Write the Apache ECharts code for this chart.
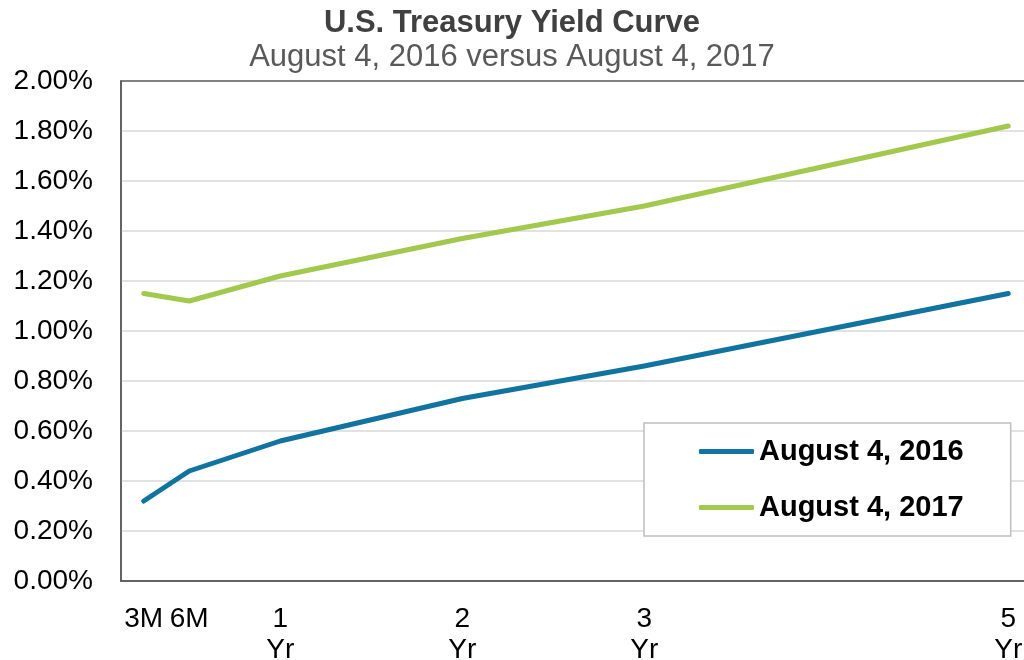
<!DOCTYPE html>
<html>
<head>
<meta charset="utf-8">
<script src="https://cdn.jsdelivr.net/npm/echarts@6/dist/echarts.min.js"></script>
<style>
html,body{margin:0;padding:0;background:#fff;}
#chart{width:1024px;height:660px;}
</style>
</head>
<body>
<div id="chart"></div>
<script>
// Maturities in years and their tick labels
const maturities = [0.25, 0.5, 1, 2, 3, 5];
const tickLabels = ['3M', '6M', '1\nYr', '2\nYr', '3\nYr', '5\nYr'];
// Yields (%)
const yields2016 = [0.32, 0.44, 0.56, 0.73, 0.86, 1.15];
const yields2017 = [1.15, 1.12, 1.22, 1.37, 1.50, 1.82];
const seriesNames = ['August 4, 2016', 'August 4, 2017'];
const titleText = 'U.S. Treasury Yield Curve';
const subtitleText = 'August 4, 2016 versus August 4, 2017';

const font = 'Liberation Sans, Arial, sans-serif';
const toPairs = ys => maturities.map((m, i) => [m, ys[i]]);
const labelMap = {};
maturities.forEach((m, i) => { labelMap[m] = tickLabels[i]; });

const chart = echarts.init(document.getElementById('chart'), null, {renderer: 'canvas'});
chart.setOption({
  animation: false,
  backgroundColor: '#ffffff',
  title: [
    {text: titleText, left: 'center', top: 3,
     textStyle: {fontFamily: font, fontSize: 31, fontWeight: 'bold', color: '#404040'}},
    {text: subtitleText, left: 'center', top: 37,
     textStyle: {fontFamily: font, fontSize: 31, fontWeight: 'normal', color: '#595959'}}
  ],
  legend: {
    orient: 'vertical',
    left: 644, top: 423,
    width: 368,
    padding: [14, 47, 14, 55],
    backgroundColor: '#ffffff',
    borderColor: '#bfbfbf', borderWidth: 1.5,
    icon: 'roundRect',
    itemWidth: 55, itemHeight: 5, itemGap: 27,
    textStyle: {fontFamily: font, fontSize: 29, fontWeight: 'bold', color: '#000000'},
    data: seriesNames
  },
  grid: {
    left: 121, right: -7, top: 81, bottom: 79,
    show: true, borderColor: '#595959', borderWidth: 1.5,
    containLabel: false,
    outerBoundsMode: 'none'
  },
  xAxis: {
    type: 'value',
    min: 0.125, max: 5.125,
    axisLine: {show: true, onZero: false, lineStyle: {color: '#595959', width: 1.5}},
    axisTick: {show: false},
    splitLine: {show: false},
    axisLabel: {
      customValues: maturities,
      formatter: v => labelMap[v] !== undefined ? labelMap[v] : '',
      fontFamily: font, fontSize: 28, color: '#000000',
      lineHeight: 31, margin: 23, verticalAlign: 'top', hideOverlap: false
    }
  },
  yAxis: {
    type: 'value',
    min: 0, max: 2, interval: 0.2,
    axisLine: {show: true, lineStyle: {color: '#595959', width: 1.5}},
    axisTick: {show: false},
    splitLine: {show: true, showMaxLine: false, showMinLine: false, lineStyle: {color: '#d9d9d9', width: 1.5}},
    axisLabel: {
      formatter: v => v.toFixed(2) + '%',
      fontFamily: font, fontSize: 28, color: '#000000', margin: 28
    }
  },
  series: [
    {name: seriesNames[0], type: 'line', data: toPairs(yields2016),
     symbol: 'none', lineStyle: {color: '#11739F', width: 5, cap: 'round', join: 'round'},
     itemStyle: {color: '#11739F'}},
    {name: seriesNames[1], type: 'line', data: toPairs(yields2017),
     symbol: 'none', lineStyle: {color: '#A2C84E', width: 5, cap: 'round', join: 'round'},
     itemStyle: {color: '#A2C84E'}}
  ]
});
</script>
</body>
</html>
